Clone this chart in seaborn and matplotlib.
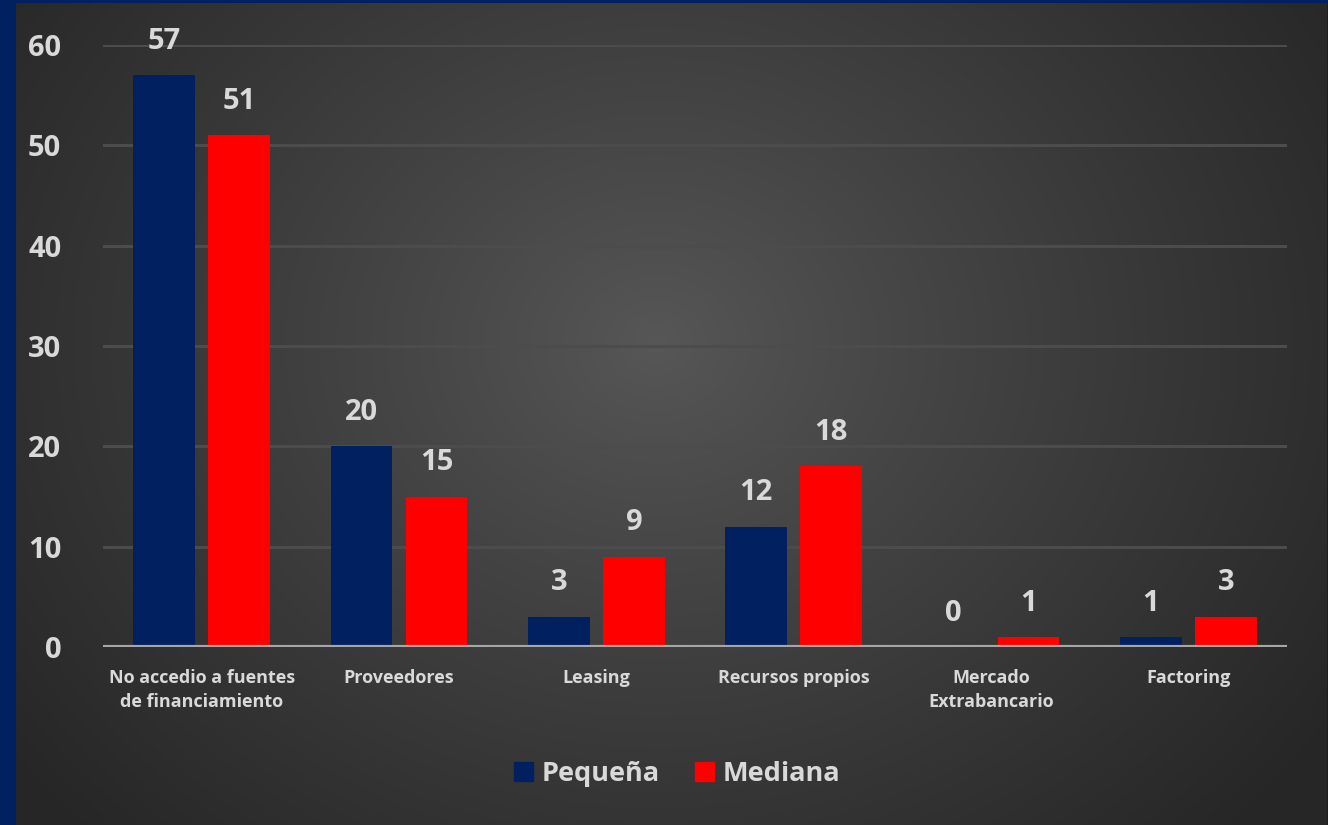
import numpy as np
import pandas as pd
import matplotlib
matplotlib.use('Agg')
import matplotlib.pyplot as plt
import seaborn as sns

# data
categories = ['No accedio a fuentes\nde financiamiento', 'Proveedores', 'Leasing',
              'Recursos propios', 'Mercado\nExtrabancario', 'Factoring']
pequena = [57, 20, 3, 12, 0, 1]
mediana = [51, 15, 9, 18, 1, 3]
series_names = ['Pequeña', 'Mediana']
y_ticks = [0, 10, 20, 30, 40, 50, 60]

NAVY = '#002060'
RED = '#FF0000'
TXT = '#D9D9D9'

df = pd.DataFrame({
    'cat': categories * 2,
    'val': pequena + mediana,
    'serie': [series_names[0]] * len(categories) + [series_names[1]] * len(categories),
})

sns.set_theme(style='dark')
plt.rcParams['font.family'] = ['Open Sans', 'DejaVu Sans']
plt.rcParams['font.weight'] = 'bold'

W, H = 1328, 825
fig = plt.figure(figsize=(W / 100, H / 100), dpi=100)
fig.patch.set_facecolor(NAVY)

# radial gradient background panel
bg = fig.add_axes([16 / W, 0, 1 - 17 / W, 1 - 3 / H], zorder=-5)
yy, xx = np.mgrid[0:822, 0:1311]
cx, cy = 640, 340
d = np.sqrt(((xx - cx) / 1.0) ** 2 + ((yy - cy) / 0.85) ** 2)
d = np.clip(d / 820, 0, 1)
lo, hi = 0x26 / 255, 0x57 / 255
g = hi - (hi - lo) * d ** 0.9
bg.imshow(np.dstack([g, g, g]), aspect='auto', interpolation='bilinear')
bg.axis('off')

ax = fig.add_axes([103 / W, 1 - 647 / H, (1287 - 103) / W, (647 - 45) / H])
ax.set_facecolor('none')

sns.barplot(data=df, x='cat', y='val', hue='serie', order=categories,
            hue_order=series_names, palette=[NAVY, RED], width=0.76, gap=0.18,
            ax=ax, legend=False, saturation=1, zorder=3, edgecolor='none', linewidth=0)

for cont in ax.containers:
    ax.bar_label(cont, labels=[f'{int(v)}' for v in cont.datavalues], padding=14,
                 color=TXT, fontsize=21, fontweight='bold')

ax.set_ylim(0, 60)
ax.set_xlim(-0.5, len(categories) - 0.5)
ax.set_yticks(y_ticks)
ax.yaxis.grid(True, color='#4C4C4C', linewidth=2.2, zorder=0)
ax.xaxis.grid(False)
ax.axhline(0, color='#A6A6A6', linewidth=3, zorder=4)
for s in ax.spines.values():
    s.set_visible(False)
ax.tick_params(axis='y', length=0, pad=30, labelsize=21, labelcolor=TXT)
ax.tick_params(axis='x', length=0, pad=16, labelsize=13, labelcolor=TXT)
for lab in ax.get_yticklabels():
    lab.set_fontweight('bold')
for lab in ax.get_xticklabels():
    lab.set_fontweight('bold')
    lab.set_linespacing(1.4)
ax.set_xlabel('')
ax.set_ylabel('')

handles = [plt.Rectangle((0, 0), 1, 1, color=NAVY), plt.Rectangle((0, 0), 1, 1, color=RED)]
fig.legend(handles, series_names, loc='center', bbox_to_anchor=(677 / W, 1 - 774 / H),
           ncol=2, frameon=False, handlelength=0.72, handleheight=0.72,
           handletextpad=0.3, columnspacing=1.3, labelcolor=TXT,
           prop={'weight': 'bold', 'size': 19.5})

fig.savefig('out.png', dpi=100, facecolor=fig.get_facecolor())
